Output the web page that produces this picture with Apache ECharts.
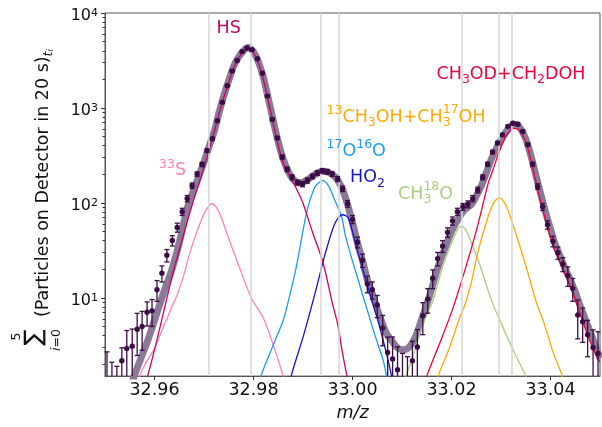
<!DOCTYPE html>
<html>
<head>
<meta charset="utf-8">
<script src="https://cdn.jsdelivr.net/npm/echarts@6/dist/echarts.min.js"></script>
<style>
  html, body { margin: 0; padding: 0; background: #fff; }
  #chart { width: 602px; height: 427px; }
</style>
</head>
<body>
<div id="chart"></div>
<script>
// measured points (m/z, summed counts, error)
const mz = [32.9504,32.9514,32.9524,32.9534,32.9544,32.9555,32.9565,32.9575,32.9585,32.9595,
  32.9605,32.9615,32.9625,32.9636,32.9646,32.9656,32.9666,32.9676,32.9686,32.9696,
  32.9706,32.9717,32.9727,32.9737,32.9747,32.9757,32.9767,32.9777,32.9787,32.9797,
  32.9808,32.9818,32.9828,32.9838,32.9848,32.9858,32.9868,32.9878,32.9889,32.9899,
  32.9909,32.9919,32.9929,32.9939,32.9949,32.9959,32.9970,32.9980,32.9990,33.0000,
  33.0010,33.0020,33.0030,33.0040,33.0050,33.0061,33.0071,33.0081,33.0091,33.0101,
  33.0111,33.0121,33.0131,33.0142,33.0152,33.0162,33.0172,33.0182,33.0192,33.0202,
  33.0212,33.0223,33.0233,33.0243,33.0253,33.0263,33.0273,33.0283,33.0293,33.0303,
  33.0314,33.0324,33.0334,33.0344,33.0354,33.0364,33.0374,33.0384,33.0394,33.0405,
  33.0415,33.0425,33.0435,33.0445,33.0455,33.0465,33.0475,33.0486,33.0496];
const counts = [1.2,1.0,1.0,2.18,2.93,3.09,4.67,5.0,7.06,7.3,
  12.2,18.2,28.1,40.2,55.2,80.8,111,152,201,254,
  355,474,732,1145,1716,2453,3164,3922,4285,4112,
  3296,2322,1333,758,482,304,226,186,164,158,
  172,190,206,218,213,201,179,141,98,67,
  38.6,24.9,14.1,12.2,8.4,4.83,2.66,2.27,1.75,1.2,
  1.2,2.18,3.04,6.5,9.7,16.1,25.9,35.1,49,64.7,
  80.8,91,97,111,137,186,255,343,428,521,
  640,689,673,565,411,255,149,91,58.9,39.5,
  29.9,22.7,17.2,12.6,6.6,5.6,4.1,3.0,2.6];
const errs = [1.5,1.1,0.9,0.8,1.6,1.6,2.2,2.2,2.0,2.3,
  3.0,3.5,4.2,5,6,7,8.5,10,11,13,
  15,17,22,27,33,40,45,50,52,51,
  46,39,29,22,18,14,12,11,10,10,
  10.5,11,11.5,12,12,11,11,9.5,8,6.5,
  5,4,2.8,2.5,2.2,1.7,1.2,1.6,1.3,1.4,
  1.2,1.3,1.6,2.4,2.8,3.6,4.2,5,5.6,6.4,
  7,7.6,8,8.4,9.4,11,13,15,16.5,18,
  20,21,21,19,16,13,10,7.6,6,5,
  4.4,3.8,4.0,3.4,2.9,2.2,1.7,1.6,1.8];

// total fit and components [m/z, value]
const fitCurve = [[32.9530,0.5],[32.9545,0.9],[32.9559,1.5],[32.9571,2.2],[32.9585,3.4],[32.9600,5.8],
  [32.9620,12],[32.9634,19],[32.9650,38],[32.9667,91],[32.9680,140],[32.9700,270],[32.9710,390],
  [32.9720,550],[32.9730,880],[32.9740,1340],[32.9750,1950],[32.9760,2750],[32.9770,3450],[32.9780,4000],
  [32.9788,4330],[32.9800,3900],[32.9810,3050],[32.9820,2100],[32.9830,1250],[32.9840,730],[32.9850,440],
  [32.9860,290],[32.9870,215],[32.9880,178],[32.9890,163],[32.9900,165],[32.9910,177],[32.9920,193],
  [32.9930,208],[32.9940,216],[32.9950,212],[32.9960,198],[32.9970,174],[32.9980,138],[32.9990,96],
  [33.0000,62],[33.0010,38],[33.0020,25],[33.0030,15.5],[33.0040,11],[33.0050,7.6],[33.0060,5.4],
  [33.0070,4.1],[33.0080,3.5],[33.0090,3.0],[33.0100,2.85],[33.0110,2.9],[33.0120,3.3],[33.0130,4.2],
  [33.0140,6.0],[33.0150,8.5],[33.0160,12.5],[33.0170,19],[33.0180,27],[33.0190,37],[33.0200,50],
  [33.0210,63],[33.0220,77],[33.0230,88],[33.0240,96],[33.0250,118],[33.0260,150],[33.0270,205],
  [33.0280,285],[33.0290,370],[33.0300,460],[33.0310,560],[33.0320,640],[33.0326,675],[33.0333,665],
  [33.0340,600],[33.0350,470],[33.0360,320],[33.0370,200],[33.0380,125],[33.0390,80],[33.0400,53],
  [33.0410,36],[33.0420,27],[33.0430,20],[33.0440,15.5],[33.0450,11.5],[33.0460,8.2],[33.0470,6.0],
  [33.0480,4.4],[33.0490,3.2],[33.0500,2.3]];
const hsCurve = [[32.9570,0.9],[32.9586,1.5],[32.9608,4.2],[32.9636,17.2],[32.9660,48.8],[32.9675,91],
  [32.9690,161],[32.9704,277],[32.9720,548],[32.9735,1066],[32.9750,1850],[32.9760,2650],[32.9770,3350],
  [32.9780,3900],[32.9788,4150],[32.9800,3800],[32.9810,2950],[32.9820,2000],[32.9830,1180],[32.9840,680],
  [32.9850,400],[32.9860,265],[32.9870,205],[32.9880,165],[32.9890,130],[32.9900,99],[32.9920,48],
  [32.9940,24],[32.9960,8.5],[32.9970,5.3],[32.9980,2.6],[32.9990,1.4],[33.0000,0.8]];
const s33Curve = [[32.9560,1.0],[32.9570,1.5],[32.9581,2.0],[32.9601,3.0],[32.9613,4.3],[32.9625,6.0],
  [32.9633,7.6],[32.9648,11.5],[32.9660,18],[32.9669,27],[32.9687,52],[32.9702,80],[32.9716,98],
  [32.9726,88],[32.9736,68],[32.9746,48],[32.9773,20],[32.9796,9.9],[32.9820,6.1],[32.9840,3.2],
  [32.9860,1.5],[32.9870,1.0]];
const o17Curve = [[32.9800,0.8],[32.9815,1.5],[32.9843,3.5],[32.9860,5.8],[32.9872,10],[32.9887,21.8],
  [32.9907,77.6],[32.9924,146],[32.9940,172],[32.9952,150],[32.9964,107],[32.9978,72],[32.9985,47],
  [32.9995,30],[33.0005,20],[33.0025,9],[33.0045,4.1],[33.0062,2.2],[33.0069,1.5],[33.0080,0.9]];
const ho2Curve = [[32.9865,0.8],[32.9876,1.5],[32.9901,4],[32.9924,11],[32.9944,28],[32.9964,60],
  [32.9980,75],[32.9991,70],[33.0011,30],[33.0032,12.5],[33.0052,5.6],[33.0072,2.2],[33.0079,1.5],
  [33.0090,0.9]];
const o18Curve = [[33.0095,0.9],[33.0108,1.5],[33.0122,2.4],[33.0130,3.3],[33.0144,5.5],[33.0163,9.5],
  [33.0183,22],[33.0203,41],[33.0212,52],[33.0220,57],[33.0228,53],[33.0237,42],[33.0259,21],
  [33.0279,10],[33.0297,5.9],[33.0321,3.1],[33.0350,1.5],[33.0365,1.0]];
const c13Curve = [[33.0160,0.9],[33.0173,1.5],[33.0196,3.0],[33.0216,6.1],[33.0227,8.4],[33.0240,14.5],
  [33.0253,30],[33.0274,72],[33.0283,95],[33.0290,108],[33.0297,113],[33.0305,104],[33.0314,84],
  [33.0334,41],[33.0354,18.6],[33.0371,9.1],[33.0388,5.2],[33.0405,2.7],[33.0422,1.6],[33.0430,1.2]];
const odCurve = [[33.0140,0.9],[33.0150,1.5],[33.0176,3.3],[33.0203,7.8],[33.0230,22],[33.0253,58],
  [33.0274,160],[33.0284,225],[33.0294,320],[33.0307,470],[33.0317,565],[33.0326,610],[33.0334,600],
  [33.0344,520],[33.0354,380],[33.0364,235],[33.0374,140],[33.0384,86],[33.0405,36],[33.0425,20],
  [33.0445,11.5],[33.0465,5.65],[33.0485,3.0],[33.0500,2.1]];

const peakLines = [32.9709, 32.9794, 32.9936, 32.9972, 33.0221, 33.0295, 33.0321];
const xTicks = [32.96, 32.98, 33.00, 33.02, 33.04];
const yTicks = [10, 100, 1000, 10000];
const yMinorTicks = [2,3,4,5,6,7,8,9,20,30,40,50,60,70,80,90,200,300,400,500,600,700,800,900,
  2000,3000,4000,5000,6000,7000,8000,9000];

const FONT = '"DejaVu Sans"';
const INK = '#111';
const DOT = '#3c0c46';

const chart = echarts.init(document.getElementById('chart'));

// text width, for placing sub/superscripts by hand
const meas = document.createElement('canvas').getContext('2d');
function tw(s, size) {
  meas.font = size + 'px ' + FONT;
  return meas.measureText(s).width;
}

const BASE = 17.5, SMALL = 12.5, SHIFT = 6;
function mathText(x, y, parts, color) {
  const out = [];
  let cx = x;
  const put = (t, px, py, size) => out.push({
    type: 'text', x: px, y: py, silent: true, z: 50,
    style: { text: t, fill: color, font: size + 'px ' + FONT,
      align: 'left', verticalAlign: 'middle', textAlign: 'left', textVerticalAlign: 'middle' }
  });
  parts.forEach(([t, kind, sup]) => {
    if (kind === 'sup') { put(t, cx, y - SHIFT, SMALL); cx += tw(t, SMALL); }
    else if (kind === 'sub') { put(t, cx, y + SHIFT, SMALL); cx += tw(t, SMALL); }
    else if (kind === 'both') {
      put(t, cx, y + SHIFT, SMALL); put(sup, cx, y - SHIFT - 1, SMALL);
      cx += Math.max(tw(t, SMALL), tw(sup, SMALL));
    }
    else { put(t, cx, y, BASE); cx += tw(t, BASE); }
  });
  return out;
}

const colors = {
  hs: '#cc0066', s33: '#ff80c0', o17: '#1a9cf0', ho2: '#1414c8',
  o18: '#a8d07c', c13: '#ffaa00', od: '#f0003c', fit: '#8a7a97'
};

const labels = [].concat(
  mathText(216.5, 28.5, [['HS']], colors.hs),
  mathText(159, 170.5, [['33', 'sup'], ['S']], colors.s33),
  mathText(436.5, 74, [['CH'], ['3', 'sub'], ['OD+CH'], ['2', 'sub'], ['DOH']], colors.od),
  mathText(326.5, 117, [['13', 'sup'], ['CH'], ['3', 'sub'], ['OH+CH'], ['3', 'both', '17'], ['OH']], colors.c13),
  mathText(326.5, 151, [['17', 'sup'], ['O'], ['16', 'sup'], ['O']], colors.o17),
  mathText(350, 177.5, [['HO'], ['2', 'sub']], colors.ho2),
  mathText(398, 194, [['CH'], ['3', 'both', '18'], ['O']], colors.o18)
);

// rotated y axis title: sum with limits + text
const yTitle = [
  { type: 'text', x: 43.5, y: 183, rotation: Math.PI / 2, silent: true,
    style: { text: '{m|(Particles on Detector in 20 s)}{t|t}{i|i}', align: 'center', verticalAlign: 'middle',
      rich: {
        m: { fontSize: 17.5, fontFamily: FONT, lineHeight: 24, fill: INK },
        t: { fontSize: 12.5, fontFamily: FONT, fontStyle: 'italic', verticalAlign: 'bottom', lineHeight: 12, fill: INK },
        i: { fontSize: 9, fontFamily: FONT, fontStyle: 'italic', verticalAlign: 'bottom', lineHeight: 7, fill: INK }
      } } },
  { type: 'text', x: 35, y: 337.5, rotation: Math.PI / 2, silent: true,
    style: { text: '\u2211', font: '24px ' + FONT, fill: INK, align: 'center', verticalAlign: 'middle' } },
  { type: 'text', x: 16.5, y: 336.5, rotation: Math.PI / 2, silent: true,
    style: { text: '5', font: '12.5px ' + FONT, fill: INK, align: 'center', verticalAlign: 'middle' } },
  { type: 'text', x: 56.5, y: 340, rotation: Math.PI / 2, silent: true,
    style: { text: '{a|i}{b|=0}', align: 'center', verticalAlign: 'middle',
      rich: {
        a: { fontSize: 12.5, fontFamily: FONT, fontStyle: 'italic', fill: INK },
        b: { fontSize: 12.5, fontFamily: FONT, fill: INK }
      } } }
];

function curve(name, data, color, width, z) {
  return { name, type: 'line', data, smooth: 0.3, showSymbol: false, silent: true, z,
    lineStyle: { color, width }, emphasis: { disabled: true } };
}

function renderPoint(params, api) {
  const x = api.value(0), y = api.value(1), e = api.value(2);
  const cs = params.coordSys;
  const p = api.coord([x, y]);
  const hi = api.coord([x, y + e]);
  const lo = api.coord([x, Math.max(y - e, 0.01)]);
  const top = Math.max(hi[1], cs.y), bot = Math.min(lo[1], cs.y + cs.height);
  const children = [];
  const st = { stroke: DOT, lineWidth: 1.3 };
  if (top < bot) {
    children.push({ type: 'line', shape: { x1: p[0], y1: top, x2: p[0], y2: bot }, style: st });
    if (hi[1] >= cs.y) children.push({ type: 'line', shape: { x1: p[0] - 2.5, y1: hi[1], x2: p[0] + 2.5, y2: hi[1] }, style: st });
    if (lo[1] <= cs.y + cs.height) children.push({ type: 'line', shape: { x1: p[0] - 2.5, y1: lo[1], x2: p[0] + 2.5, y2: lo[1] }, style: st });
  }
  if (p[1] >= cs.y && p[1] <= cs.y + cs.height) {
    children.push({ type: 'circle', shape: { cx: p[0], cy: p[1], r: 2.7 }, style: { fill: DOT } });
  }
  return { type: 'group', children };
}

const option = {
  animation: false,
  backgroundColor: '#fff',
  grid: { left: 105, right: 2, top: 13, bottom: 44, show: true, borderColor: '#555', borderWidth: 1 },
  xAxis: {
    type: 'value', min: 32.95, max: 33.05,
    axisLine: { show: true, onZero: false, lineStyle: { color: '#555', width: 1 } },
    axisTick: { show: true, length: 4, customValues: xTicks, lineStyle: { color: '#333' } },
    axisLabel: { customValues: xTicks, formatter: v => v.toFixed(2), fontSize: 17.5,
      fontFamily: FONT, color: INK, margin: 5 },
    splitLine: { show: false },
    name: 'm/z', nameLocation: 'middle', nameGap: 24,
    nameTextStyle: { fontSize: 17.5, fontStyle: 'italic', fontFamily: FONT, color: INK }
  },
  yAxis: [
    {
      type: 'log', logBase: 10, min: 1.5, max: 10000,
      axisLine: { show: true, lineStyle: { color: '#555', width: 1 } },
      axisTick: { show: true, length: 4, customValues: yTicks, lineStyle: { color: '#333' } },
      axisLabel: {
        customValues: yTicks, margin: 7, padding: [5, 0, 0, 0],
        formatter: v => '{b|10}{s|' + Math.round(Math.log10(v)) + '}',
        rich: {
          b: { fontSize: 16, fontFamily: FONT, color: INK, lineHeight: 16 },
          s: { fontSize: 11, fontFamily: FONT, color: INK, verticalAlign: 'top', lineHeight: 5 }
        }
      },
      splitLine: { show: false }
    },
    {
      type: 'log', logBase: 10, min: 1.5, max: 10000, position: 'left',
      axisLine: { show: false },
      axisTick: { show: true, length: 2.5, customValues: yMinorTicks, lineStyle: { color: '#333' } },
      axisLabel: { show: false },
      splitLine: { show: false }
    }
  ],
  graphic: { elements: labels.concat(yTitle) },
  series: [
    { type: 'line', data: [], silent: true, z: 1,
      markLine: { silent: true, symbol: ['none', 'none'], label: { show: false }, animation: false,
        precision: 6,
        lineStyle: { color: '#d6d6d6', width: 1.5, type: 'solid' },
        data: peakLines.map(v => ({ xAxis: v })) } },
    curve('fit', fitCurve, colors.fit, 7, 2),
    curve('33S', s33Curve, colors.s33, 1.3, 3),
    curve('17O16O', o17Curve, colors.o17, 1.3, 3),
    curve('HO2', ho2Curve, colors.ho2, 1.3, 3),
    curve('CH3 18O', o18Curve, colors.o18, 1.3, 3),
    curve('13CH3OH', c13Curve, colors.c13, 1.3, 3),
    curve('HS', hsCurve, colors.hs, 1.3, 4),
    curve('CH3OD', odCurve, colors.od, 1.3, 4),
    { type: 'custom', silent: true, z: 5, renderItem: renderPoint,
      encode: { x: 0, y: 1 },
      data: mz.map((x, i) => [x, counts[i], errs[i]]) }
  ]
};

chart.setOption(option);
</script>
</body>
</html>
